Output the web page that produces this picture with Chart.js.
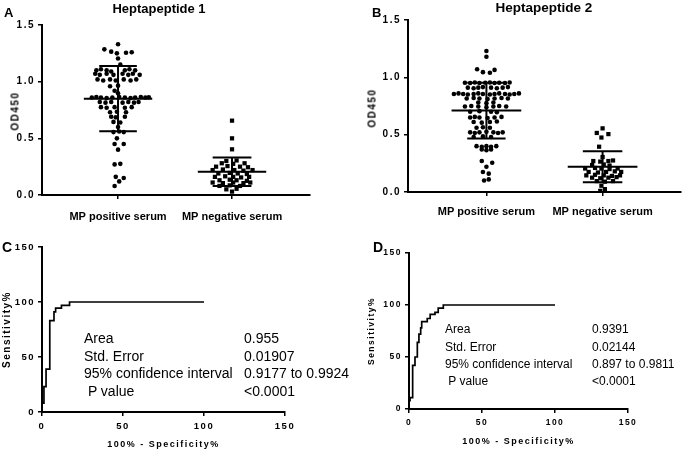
<!DOCTYPE html>
<html><head><meta charset="utf-8">
<script src="https://cdn.jsdelivr.net/npm/chart.js@4.4.1/dist/chart.umd.min.js"></script>
<style>
html,body{margin:0;padding:0;background:#fff;}
body{width:685px;height:453px;position:relative;overflow:hidden;font-family:"Liberation Sans",Arial,sans-serif;color:#000;}
.box{position:absolute;}
.t{position:absolute;white-space:nowrap;}
.b{font-weight:bold;}
.rot{transform:translate(-50%,-50%) rotate(-90deg);letter-spacing:1.5px;font-weight:bold;font-size:10px;}
</style></head><body>
<div class="box" style="left:0;top:0;width:340px;height:230px"><canvas id="cA"></canvas></div>
<div class="box" style="left:340px;top:0;width:345px;height:230px"><canvas id="cB"></canvas></div>
<div class="box" style="left:0;top:230px;width:340px;height:223px"><canvas id="cC"></canvas></div>
<div class="box" style="left:340px;top:230px;width:345px;height:223px"><canvas id="cD"></canvas></div>

<div class="t b" style="left:4px;top:4px;font-size:13px;line-height:17px">A</div>
<div class="t b" style="left:372px;top:4px;font-size:13px;line-height:17px">B</div>
<div class="t b" style="left:2px;top:239px;font-size:14px;line-height:17px">C</div>
<div class="t b" style="left:373px;top:239px;font-size:14px;line-height:17px">D</div>
<div class="t b" style="left:159px;top:0px;font-size:13px;line-height:18px;transform:translateX(-50%)">Heptapeptide 1</div>
<div class="t b" style="left:544px;top:-1px;font-size:13.5px;line-height:18px;transform:translateX(-50%)">Heptapeptide 2</div>
<div class="t rot" style="left:15px;top:111px">OD450</div>
<div class="t rot" style="left:372px;top:108px">OD450</div>
<div id="statsC"></div>
<div id="statsD"></div>

<script>
// ---------- data ----------
const categories = ['MP positive serum', 'MP negative serum'];
const odTicks = [0, 0.5, 1.0, 1.5];
const rocTicks = [0, 50, 100, 150];

// Panel A (Heptapeptide 1): OD450 values and beeswarm offsets
const aPosOD = [1.33,1.285,1.265,1.25,1.255,1.26,1.205,1.15,
  1.10,1.11,1.10,1.09,1.10,1.11,1.10,
  1.07,1.06,1.07,1.06,1.07,1.06,1.07,1.06,
  1.02,1.01,1.02,1.01,1.02,1.01,1.02,
  0.96,0.965,0.92,0.897,
  0.86,0.865,0.86,0.855,0.86,0.865,0.86,0.855,0.86,0.865,0.86,0.862,
  0.82,0.815,0.82,0.815,0.82,0.815,0.82,
  0.775,0.77,0.775,0.77,0.775,
  0.73,0.735,0.73,
  0.69,0.685,0.69,
  0.645,0.64,
  0.60,
  0.555,0.56,0.555,
  0.50,
  0.45,0.45,
  0.40,
  0.27,0.275,
  0.16,0.15,0.12,0.08];
const aPosJitter = [0,-0.12,-0.06,-0.01,0.07,0.12,0,0.02,
  -0.19,-0.15,-0.10,-0.06,0.06,0.10,0.15,
  -0.20,-0.16,-0.10,-0.04,0.04,0.09,0.13,0.19,
  -0.18,-0.13,-0.07,-0.02,0.05,0.11,0.16,
  -0.07,0,-0.03,0,
  -0.23,-0.19,-0.15,-0.10,-0.05,0.01,0.06,0.11,0.15,0.20,0.24,0.27,
  -0.16,-0.11,-0.06,0.04,0.09,0.14,0.18,
  -0.15,-0.10,-0.03,0.06,0.12,
  -0.07,-0.01,0.07,
  -0.06,-0.02,0.06,
  -0.04,0.02,
  0,
  -0.04,0.01,0.05,
  -0.01,
  -0.03,0.05,
  0,
  -0.03,0.02,
  -0.02,0.05,0.01,-0.03];
const aNegOD = [0.656,0.50,0.403,
  0.30,0.305,
  0.28,0.275,0.28,
  0.25,0.255,0.25,0.245,
  0.22,0.225,0.22,0.215,0.22,
  0.19,0.195,0.19,0.185,
  0.16,0.165,0.16,0.155,0.16,
  0.13,0.135,0.13,0.125,
  0.11,0.105,0.11,0.105,0.11,
  0.08,0.085,0.08,
  0.05,0.055,
  0.03];
const aNegJitter = [0,0,0,
  -0.05,0.04,
  -0.09,0.01,0.11,
  -0.14,-0.04,0.07,0.14,
  -0.17,-0.08,0.02,0.10,0.18,
  -0.12,-0.02,0.05,0.13,
  -0.15,-0.06,0.01,0.08,0.15,
  -0.11,-0.02,0.04,0.13,
  -0.17,-0.08,0.01,0.10,0.16,
  -0.11,-0.02,0.07,
  -0.05,0.04,
  0];
const aMean = [0.85, 0.205];
const aSD = [0.288, 0.125];

// Panel B (Heptapeptide 2)
const bPosOD = [1.23,1.18,
  1.07,1.045,1.04,1.065,
  0.953,0.95,0.955,0.95,0.953,0.955,0.95,0.953,0.95,0.955,
  0.91,0.905,0.91,0.915,0.91,0.905,0.91,0.915,
  0.855,0.86,0.855,0.85,0.855,0.86,0.855,0.85,0.855,0.86,0.855,0.85,0.855,0.86,
  0.815,0.82,0.815,0.81,0.815,0.82,0.815,
  0.78,0.775,0.78,
  0.745,0.75,0.745,0.74,0.745,0.75,0.745,
  0.70,0.705,0.70,0.695,
  0.65,0.655,0.65,0.645,0.65,0.655,
  0.61,0.605,0.61,0.615,
  0.56,0.565,0.56,
  0.52,0.515,0.52,0.525,0.52,0.515,0.52,
  0.48,0.485,0.48,
  0.40,0.395,0.40,0.395,0.40,
  0.37,0.365,0.37,
  0.27,0.255,0.22,
  0.175,0.16,
  0.10,0.11];
const bPosJitter = [0,0,
  -0.08,-0.03,0.03,0.07,
  -0.185,-0.14,-0.10,-0.06,-0.01,0.03,0.07,0.11,0.16,0.20,
  -0.16,-0.11,-0.07,-0.03,0.04,0.09,0.14,0.185,
  -0.28,-0.24,-0.20,-0.16,-0.11,-0.07,-0.03,0.03,0.07,0.11,0.16,0.20,0.24,0.28,
  -0.17,-0.11,-0.06,0.01,0.07,0.13,0.185,
  -0.07,0,0.06,
  -0.185,-0.13,-0.07,0,0.06,0.11,0.17,
  -0.14,-0.06,0.04,0.09,
  -0.14,-0.10,-0.06,0.01,0.07,0.13,
  -0.11,-0.04,0.03,0.09,
  -0.085,-0.03,0.03,
  -0.14,-0.10,-0.06,0,0.06,0.10,0.14,
  -0.11,-0.03,0.04,
  -0.085,-0.04,0,0.04,0.085,
  -0.04,0,0.04,
  -0.04,0.05,0,
  -0.03,0.02,
  -0.02,0.02];
const bNegOD = [0.555,0.515,0.505,0.475,0.395,0.305,
  0.27,0.265,0.27,0.275,
  0.235,0.24,0.23,
  0.205,0.21,0.205,0.20,0.205,
  0.175,0.17,0.175,0.18,0.175,
  0.145,0.15,0.145,0.14,0.145,
  0.125,0.12,0.125,0.13,
  0.095,0.09,0.095,
  0.055,0.025,0.01];
const bNegJitter = [0,-0.05,0.05,-0.01,-0.03,0,
  -0.08,-0.02,0.05,0.09,
  -0.09,0.01,0.06,
  -0.15,-0.065,-0.01,0.06,0.13,
  -0.12,-0.04,0.03,0.105,0.16,
  -0.14,-0.065,0.01,0.08,0.15,
  -0.09,-0.02,0.05,0.12,
  -0.05,0.02,0.09,
  -0.01,0.02,-0.02];
const bMean = [0.71, 0.22];
const bSD = [0.243, 0.135];

// ROC curves (100% - specificity %, sensitivity %)
const rocC_fpr  = [0, 0, 1.2, 2.5, 4.8, 7.4, 8.4, 12, 17, 100];
const rocC_sens = [0, 8, 23, 39, 83, 91, 94.5, 97, 100, 100];
const rocD_fpr  = [0, 0, 0.7, 2.5, 4.1, 5.7, 6.8, 8.0, 8.7, 12.5, 14.5, 17.8, 20, 23.5, 100];
const rocD_sens = [0, 8, 11, 42, 50, 64, 72, 78, 84, 87, 91, 93, 97, 100, 100];

const statLabels = ['Area', 'Std. Error', '95% confidence interval', ' P value'];
const statsC = ['0.955', '0.01907', '0.9177 to 0.9924', '<0.0001'];
const statsD = ['0.9391', '0.02144', '0.897 to 0.9811', '<0.0001'];

// ---------- rendering ----------
Chart.defaults.font.family = '"Liberation Sans", Arial, sans-serif';
Chart.defaults.color = '#000';

const spacing = {
  id: 'spacing',
  beforeDraw(chart, args, opts) { chart.ctx.letterSpacing = opts.before || '0px'; },
  afterDatasetsDraw(chart, args, opts) { chart.ctx.letterSpacing = opts.after || '0px'; }
};

function pts(vals, jit, center) {
  return vals.map((v, i) => ({ x: center + jit[i], y: v }));
}
function bars(center, mean, sd, halfMean, halfCap) {
  return [
    { x: center - halfMean, y: mean }, { x: center + halfMean, y: mean }, { x: center, y: null },
    { x: center - halfCap, y: mean + sd }, { x: center + halfCap, y: mean + sd }, { x: center, y: null },
    { x: center - halfCap, y: mean - sd }, { x: center + halfCap, y: mean - sd }, { x: center, y: null },
    { x: center, y: mean - sd }, { x: center, y: mean + sd }
  ];
}

function scatterChart(id, pos, posJ, neg, negJ, mean, sd, cfg) {
  const axisGrid = { drawOnChartArea: false, color: '#000', lineWidth: 1.5, tickLength: 4 };
  const axisBorder = { display: true, color: '#000', width: 2 };
  return new Chart(document.getElementById(id), {
    type: 'scatter',
    data: {
      datasets: [
        { data: pts(pos, posJ, 1), pointStyle: 'circle', pointRadius: 2.3, backgroundColor: '#000', borderWidth: 0 },
        { data: pts(neg, negJ, 2), pointStyle: 'rect', pointRadius: 3, backgroundColor: '#000', borderWidth: 0 },
        { type: 'line', data: bars(1, mean[0], sd[0], 0.30, 0.165), borderColor: '#000', borderWidth: 2, pointRadius: 0, spanGaps: false },
        { type: 'line', data: bars(2, mean[1], sd[1], 0.30, 0.17), borderColor: '#000', borderWidth: 2, pointRadius: 0, spanGaps: false }
      ]
    },
    options: {
      responsive: true, maintainAspectRatio: false, animation: false,
      layout: { padding: cfg.pad },
      plugins: { legend: { display: false }, tooltip: { enabled: false }, spacing: { before: '0px', after: '1.5px' } },
      scales: {
        x: {
          type: 'linear', min: cfg.xmin, max: cfg.xmax,
          afterBuildTicks: s => { s.ticks = [{ value: 1 }, { value: 2 }]; },
          afterFit: s => { s.height = cfg.xh; },
          ticks: { callback: (v, i) => categories[i], font: { size: 11, weight: 'bold' }, padding: cfg.xpad, maxRotation: 0, autoSkip: false, z: 0 },
          grid: axisGrid, border: axisBorder
        },
        y: {
          min: 0, max: 1.5,
          afterBuildTicks: s => { s.ticks = odTicks.map(v => ({ value: v })); },
          afterFit: s => { s.width = cfg.yw; },
          ticks: { callback: v => v.toFixed(1), font: { size: 10, weight: 'bold' }, padding: 3, z: 1 },
          grid: axisGrid, border: axisBorder
        }
      }
    },
    plugins: [spacing]
  });
}

scatterChart('cA', aPosOD, aPosJitter, aNegOD, aNegJitter, aMean, aSD,
  { pad: { top: 25, right: 30, left: 0, bottom: 0 }, xmin: 0.333, xmax: 2.684, xh: 35, yw: 42, xpad: 11 });
scatterChart('cB', bPosOD, bPosJitter, bNegOD, bNegJitter, bMean, bSD,
  { pad: { top: 20, right: 2, left: 0, bottom: 0 }, xmin: 0.325, xmax: 2.675, xh: 38, yw: 68, xpad: 9 });

function rocChart(id, fpr, sens, cfg) {
  const axisGrid = { drawOnChartArea: false, color: '#000', lineWidth: 1.5, tickLength: 4 };
  const axisBorder = { display: true, color: '#000', width: 2 };
  return new Chart(document.getElementById(id), {
    type: 'line',
    data: {
      datasets: [{ data: fpr.map((x, i) => ({ x: x, y: sens[i] })), stepped: true, borderColor: '#000', borderWidth: 1.7, pointRadius: 0, fill: false }]
    },
    options: {
      responsive: true, maintainAspectRatio: false, animation: false,
      layout: { padding: cfg.pad },
      plugins: { legend: { display: false }, tooltip: { enabled: false }, spacing: { before: '1.5px', after: '1.5px' } },
      scales: {
        x: {
          type: 'linear', min: 0, max: 150,
          afterBuildTicks: s => { s.ticks = rocTicks.map(v => ({ value: v })); },
          afterFit: s => { s.height = cfg.xh; },
          ticks: { font: { size: cfg.tick, weight: 'bold' }, padding: cfg.xpad, maxRotation: 0 },
          title: { display: true, text: '100% - Specificity%', font: { size: 9, weight: 'bold' }, padding: { top: 0, bottom: cfg.xtp } },
          grid: axisGrid, border: axisBorder
        },
        y: {
          min: 0, max: 150,
          afterBuildTicks: s => { s.ticks = rocTicks.map(v => ({ value: v })); },
          afterFit: s => { s.width = cfg.yw; },
          ticks: { font: { size: cfg.tick, weight: 'bold' }, padding: 3 },
          title: { display: true, text: 'Sensitivity%', font: { size: cfg.ytf, weight: 'bold' }, padding: { top: cfg.ytp, bottom: 0 } },
          grid: axisGrid, border: axisBorder
        }
      }
    },
    plugins: [spacing]
  });
}

rocChart('cC', rocC_fpr, rocC_sens,
  { pad: { top: 17, right: 55, left: 0, bottom: 0 }, xh: 41, yw: 42, xpad: 5, tick: 9.5, xtp: 3, ytf: 10, ytp: 1 });
rocChart('cD', rocD_fpr, rocD_sens,
  { pad: { top: 23, right: 57, left: 0, bottom: 0 }, xh: 44, yw: 69, xpad: 4.5, tick: 8.5, xtp: 6.5, ytf: 8.5, ytp: 27 });

function statsBlock(elId, labels, values, lx, vx, ys, fs) {
  const el = document.getElementById(elId);
  labels.forEach((lab, i) => {
    const a = document.createElement('div');
    a.className = 't';
    a.style.cssText = `left:${lx}px;top:${ys[i] - 10}px;font-size:${fs}px;line-height:20px;white-space:pre`;
    a.textContent = lab;
    el.appendChild(a);
    const b = document.createElement('div');
    b.className = 't';
    b.style.cssText = `left:${vx}px;top:${ys[i] - 10}px;font-size:${fs}px;line-height:20px;white-space:pre`;
    b.textContent = values[i];
    el.appendChild(b);
  });
}
statsBlock('statsC', statLabels, statsC, 84, 244, [338, 356, 373, 391], 14);
statsBlock('statsD', statLabels, statsD, 445, 592, [329, 347, 364, 381], 12);
</script>
</body></html>
